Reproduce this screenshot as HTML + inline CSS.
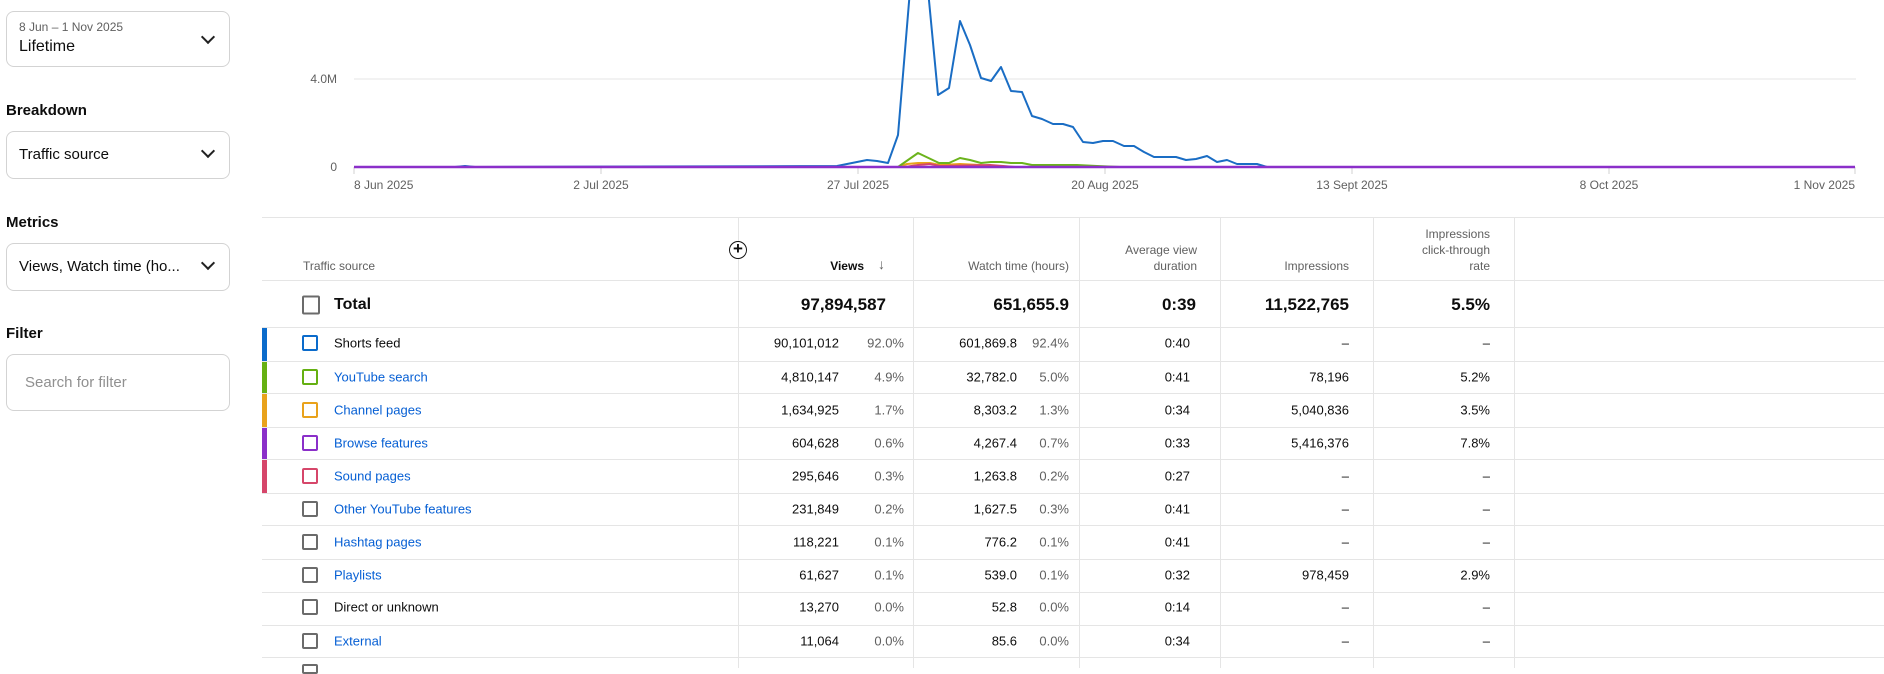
<!DOCTYPE html>
<html><head><meta charset="utf-8"><style>
*{margin:0;padding:0;box-sizing:border-box}
body{width:1884px;height:668px;overflow:hidden;background:#fff;font-family:"Liberation Sans",Arial,sans-serif;color:#0d0d0d;position:relative}
.a{position:absolute;white-space:nowrap}
.dd{position:absolute;left:6px;width:224px;border:1px solid #d3d3d3;border-radius:8px}
.chev{position:absolute;right:16px;width:10px;height:10px;border-right:2px solid #222;border-bottom:2px solid #222;transform:rotate(45deg)}
.lbl{position:absolute;left:6px;font-size:15px;font-weight:bold;color:#0d0d0d}
.hl{position:absolute;height:1px;background:#e5e5e5}
.vl{position:absolute;width:1px;background:#e5e5e5}
.t{position:absolute;font-size:13px;white-space:nowrap;transform:translateY(-50%)}
.r{text-align:right}
.g{color:#606060}
.lk{color:#065fd4}
.cb{position:absolute;left:302px;width:16px;height:16px;border:2px solid #6b6b6b;border-radius:2px;transform:translateY(-50%)}
.bar{position:absolute;left:262px;width:5px}
.h{position:absolute;font-size:12px;color:#606060;text-align:right;line-height:16px}
</style></head><body>

<div class="dd" style="top:11px;height:56px">
 <div class="a" style="left:12px;top:8px;font-size:12px;color:#606060">8 Jun – 1 Nov 2025</div>
 <div class="a" style="left:12px;top:26px;font-size:16px">Lifetime</div>
 <div class="chev" style="top:20px"></div>
</div>
<div class="lbl" style="top:102px">Breakdown</div>
<div class="dd" style="top:131px;height:48px">
 <div class="a" style="left:12px;top:14px;font-size:15px">Traffic source</div>
 <div class="chev" style="top:14px"></div>
</div>
<div class="lbl" style="top:214px">Metrics</div>
<div class="dd" style="top:243px;height:48px">
 <div class="a" style="left:12px;top:14px;font-size:15px">Views, Watch time (ho...</div>
 <div class="chev" style="top:14px"></div>
</div>
<div class="lbl" style="top:325px">Filter</div>
<div class="dd" style="top:354px;height:57px">
 <div class="a" style="left:18px;top:19px;font-size:15px;color:#909090">Search for filter</div>
</div>

<svg class="a" style="left:0;top:0" width="1884" height="215">
 <line x1="354" y1="79" x2="1856" y2="79" stroke="#e5e5e5"/>
 <g stroke="#d0d0d0"><line x1="354" y1="167" x2="354" y2="174"/><line x1="601" y1="167" x2="601" y2="174"/><line x1="858" y1="167" x2="858" y2="174"/><line x1="1105" y1="167" x2="1105" y2="174"/><line x1="1352" y1="167" x2="1352" y2="174"/><line x1="1609" y1="167" x2="1609" y2="174"/><line x1="1855" y1="167" x2="1855" y2="174"/></g>
 <g font-family="Liberation Sans, Arial, sans-serif" font-size="12" fill="#606060">
  <text x="337" y="83" text-anchor="end">4.0M</text>
  <text x="337" y="171" text-anchor="end">0</text>
  <text x="354" y="189">8 Jun 2025</text>
  <text x="601" y="189" text-anchor="middle">2 Jul 2025</text>
  <text x="858" y="189" text-anchor="middle">27 Jul 2025</text>
  <text x="1105" y="189" text-anchor="middle">20 Aug 2025</text>
  <text x="1352" y="189" text-anchor="middle">13 Sept 2025</text>
  <text x="1609" y="189" text-anchor="middle">8 Oct 2025</text>
  <text x="1855" y="189" text-anchor="end">1 Nov 2025</text>
 </g>
 <g fill="none" stroke-width="2" stroke-linejoin="round">
 <polyline stroke="#e9a21b" points="898,167 907,164 918,163 930,163 940,165 960,164 980,165 1000,167"/>
 <polyline stroke="#d6466a" points="905,167 918,165 930,164 940,166 990,165 1003,166 1015,167"/>
 <polyline stroke="#6bb31c" points="890,167 898,167 918,153 939,163 949,163 960,158 970,160 981,163 991,162 1001,162 1011,163 1022,163 1032,165 1063,165 1077,165 1097,166 1120,167"/>
 <polyline stroke="#1a6dc4" points="354,167 455,167 465,166 475,167 837,166 857,162 867,160 877,161 888,163 898,135 910,-10 928,-10 938,95 949,88 960,21 970,45 981,78 991,81 1001,67 1011,91 1022,92 1032,116 1042,119 1053,124 1063,124 1073,127 1083,142 1093,143 1103,141 1113,141 1124,146 1134,146 1144,152 1154,157 1165,157 1176,157 1186,160 1196,159 1207,156 1217,162 1227,160 1237,164 1247,164 1257,164 1267,167"/>
 <line stroke="#8b2fc9" stroke-width="2.5" x1="354" y1="167" x2="1855" y2="167"/>
 </g>
</svg>

<div class="hl" style="left:262px;top:217px;width:1622px"></div>
<div class="hl" style="left:262px;top:280px;width:1622px"></div>
<div class="hl" style="left:262px;top:327px;width:1622px"></div>
<div class="hl" style="left:262px;top:361px;width:1622px"></div>
<div class="hl" style="left:262px;top:393px;width:1622px"></div>
<div class="hl" style="left:262px;top:427px;width:1622px"></div>
<div class="hl" style="left:262px;top:459px;width:1622px"></div>
<div class="hl" style="left:262px;top:493px;width:1622px"></div>
<div class="hl" style="left:262px;top:525px;width:1622px"></div>
<div class="hl" style="left:262px;top:559px;width:1622px"></div>
<div class="hl" style="left:262px;top:592px;width:1622px"></div>
<div class="hl" style="left:262px;top:625px;width:1622px"></div>
<div class="hl" style="left:262px;top:657px;width:1622px"></div>
<div class="vl" style="left:738px;top:217px;height:451px"></div>
<div class="vl" style="left:913px;top:217px;height:451px"></div>
<div class="vl" style="left:1079px;top:217px;height:451px"></div>
<div class="vl" style="left:1220px;top:217px;height:451px"></div>
<div class="vl" style="left:1373px;top:217px;height:451px"></div>
<div class="vl" style="left:1514px;top:217px;height:451px"></div>

<div class="h" style="left:303px;top:258px;text-align:left">Traffic source</div>
<div class="a" style="left:729px;top:241px;width:18px;height:18px;border:1.5px solid #111;border-radius:50%;background:#fff;font-size:17px;line-height:14px;text-align:center;font-weight:bold">+</div>
<div class="h" style="left:760px;top:258px;width:104px;color:#0d0d0d;font-weight:bold">Views</div>
<div class="h" style="left:871px;top:256px;width:14px;color:#606060;font-size:14px">↓</div>
<div class="h" style="left:920px;top:258px;width:149px">Watch time (hours)</div>
<div class="h" style="left:1090px;top:242px;width:107px">Average view<br>duration</div>
<div class="h" style="left:1230px;top:258px;width:119px">Impressions</div>
<div class="h" style="left:1380px;top:226px;width:110px">Impressions<br>click-through<br>rate</div>

<div class="cb" style="top:305px;width:18px;height:19px"></div>
<div class="t" style="left:334px;top:305px;font-size:16px;font-weight:bold">Total</div>
<div class="t r" style="right:998px;top:305px;font-size:17px;font-weight:bold">97,894,587</div>
<div class="t r" style="right:815px;top:305px;font-size:17px;font-weight:bold">651,655.9</div>
<div class="t r" style="right:688px;top:305px;font-size:17px;font-weight:bold">0:39</div>
<div class="t r" style="right:535px;top:305px;font-size:17px;font-weight:bold">11,522,765</div>
<div class="t r" style="right:394px;top:305px;font-size:17px;font-weight:bold">5.5%</div>

<div class="bar" style="top:328px;height:33px;background:#0b6bcb"></div>
<div class="bar" style="top:362px;height:31px;background:#65b012"></div>
<div class="bar" style="top:394px;height:33px;background:#e9a21b"></div>
<div class="bar" style="top:428px;height:31px;background:#8b2fc9"></div>
<div class="bar" style="top:460px;height:33px;background:#d6466a"></div>

<div class="cb" style="top:343px;border-color:#0b6bcb"></div><div class="t" style="left:334px;top:343px">Shorts feed</div>
<div class="t r" style="right:1045px;top:343px">90,101,012</div><div class="t r g" style="right:980px;top:343px">92.0%</div>
<div class="t r" style="right:867px;top:343px">601,869.8</div><div class="t r g" style="right:815px;top:343px">92.4%</div>
<div class="t r" style="right:694px;top:343px">0:40</div><div class="t r" style="right:535px;top:343px">–</div><div class="t r" style="right:394px;top:343px">–</div>

<div class="cb" style="top:377px;border-color:#65b012"></div><div class="t lk" style="left:334px;top:377px">YouTube search</div>
<div class="t r" style="right:1045px;top:377px">4,810,147</div><div class="t r g" style="right:980px;top:377px">4.9%</div>
<div class="t r" style="right:867px;top:377px">32,782.0</div><div class="t r g" style="right:815px;top:377px">5.0%</div>
<div class="t r" style="right:694px;top:377px">0:41</div><div class="t r" style="right:535px;top:377px">78,196</div><div class="t r" style="right:394px;top:377px">5.2%</div>

<div class="cb" style="top:410px;border-color:#e9a21b"></div><div class="t lk" style="left:334px;top:410px">Channel pages</div>
<div class="t r" style="right:1045px;top:410px">1,634,925</div><div class="t r g" style="right:980px;top:410px">1.7%</div>
<div class="t r" style="right:867px;top:410px">8,303.2</div><div class="t r g" style="right:815px;top:410px">1.3%</div>
<div class="t r" style="right:694px;top:410px">0:34</div><div class="t r" style="right:535px;top:410px">5,040,836</div><div class="t r" style="right:394px;top:410px">3.5%</div>

<div class="cb" style="top:443px;border-color:#8b2fc9"></div><div class="t lk" style="left:334px;top:443px">Browse features</div>
<div class="t r" style="right:1045px;top:443px">604,628</div><div class="t r g" style="right:980px;top:443px">0.6%</div>
<div class="t r" style="right:867px;top:443px">4,267.4</div><div class="t r g" style="right:815px;top:443px">0.7%</div>
<div class="t r" style="right:694px;top:443px">0:33</div><div class="t r" style="right:535px;top:443px">5,416,376</div><div class="t r" style="right:394px;top:443px">7.8%</div>

<div class="cb" style="top:476px;border-color:#d6466a"></div><div class="t lk" style="left:334px;top:476px">Sound pages</div>
<div class="t r" style="right:1045px;top:476px">295,646</div><div class="t r g" style="right:980px;top:476px">0.3%</div>
<div class="t r" style="right:867px;top:476px">1,263.8</div><div class="t r g" style="right:815px;top:476px">0.2%</div>
<div class="t r" style="right:694px;top:476px">0:27</div><div class="t r" style="right:535px;top:476px">–</div><div class="t r" style="right:394px;top:476px">–</div>

<div class="cb" style="top:509px"></div><div class="t lk" style="left:334px;top:509px">Other YouTube features</div>
<div class="t r" style="right:1045px;top:509px">231,849</div><div class="t r g" style="right:980px;top:509px">0.2%</div>
<div class="t r" style="right:867px;top:509px">1,627.5</div><div class="t r g" style="right:815px;top:509px">0.3%</div>
<div class="t r" style="right:694px;top:509px">0:41</div><div class="t r" style="right:535px;top:509px">–</div><div class="t r" style="right:394px;top:509px">–</div>

<div class="cb" style="top:542px"></div><div class="t lk" style="left:334px;top:542px">Hashtag pages</div>
<div class="t r" style="right:1045px;top:542px">118,221</div><div class="t r g" style="right:980px;top:542px">0.1%</div>
<div class="t r" style="right:867px;top:542px">776.2</div><div class="t r g" style="right:815px;top:542px">0.1%</div>
<div class="t r" style="right:694px;top:542px">0:41</div><div class="t r" style="right:535px;top:542px">–</div><div class="t r" style="right:394px;top:542px">–</div>

<div class="cb" style="top:575px"></div><div class="t lk" style="left:334px;top:575px">Playlists</div>
<div class="t r" style="right:1045px;top:575px">61,627</div><div class="t r g" style="right:980px;top:575px">0.1%</div>
<div class="t r" style="right:867px;top:575px">539.0</div><div class="t r g" style="right:815px;top:575px">0.1%</div>
<div class="t r" style="right:694px;top:575px">0:32</div><div class="t r" style="right:535px;top:575px">978,459</div><div class="t r" style="right:394px;top:575px">2.9%</div>

<div class="cb" style="top:607px"></div><div class="t" style="left:334px;top:607px">Direct or unknown</div>
<div class="t r" style="right:1045px;top:607px">13,270</div><div class="t r g" style="right:980px;top:607px">0.0%</div>
<div class="t r" style="right:867px;top:607px">52.8</div><div class="t r g" style="right:815px;top:607px">0.0%</div>
<div class="t r" style="right:694px;top:607px">0:14</div><div class="t r" style="right:535px;top:607px">–</div><div class="t r" style="right:394px;top:607px">–</div>

<div class="cb" style="top:641px"></div><div class="t lk" style="left:334px;top:641px">External</div>
<div class="t r" style="right:1045px;top:641px">11,064</div><div class="t r g" style="right:980px;top:641px">0.0%</div>
<div class="t r" style="right:867px;top:641px">85.6</div><div class="t r g" style="right:815px;top:641px">0.0%</div>
<div class="t r" style="right:694px;top:641px">0:34</div><div class="t r" style="right:535px;top:641px">–</div><div class="t r" style="right:394px;top:641px">–</div>

<div class="a" style="left:302px;top:664px;width:16px;height:10px;border:2px solid #6b6b6b;border-radius:2px"></div>
</body></html>
